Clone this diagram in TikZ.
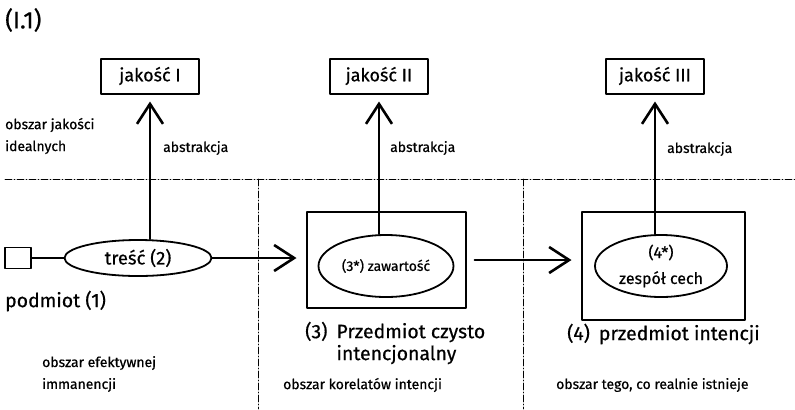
\documentclass[tikz,border=0pt]{standalone}
\usepackage{fontspec}
\setmainfont{Fira Sans}[FakeBold=0.6]
\usetikzlibrary{arrows.meta,shapes.geometric}

\begin{document}
\begin{tikzpicture}[line cap=round,line join=round,x=1bp,y=-1bp,
		>={Straight Barb[length=20bp,width=26bp,line width=2.6bp]},
		jakosc/.style={draw,line width=2bp,minimum width=98bp,minimum height=35bp,inner sep=0pt,font=\fontsize{18}{20}\selectfont},
		owal/.style={draw,ellipse,line width=1.8bp,inner sep=0pt,align=center,font=\fontsize{16}{26}\selectfont},
		ramka/.style={draw,line width=2bp,inner sep=0pt},
		strzalka/.style={->,line width=2bp},
		granica/.style={line width=0.7bp,dash pattern=on 7bp off 2bp on 1bp off 2bp},
		opis/.style={anchor=west,inner sep=0pt,align=left,font=\fontsize{14}{22}\selectfont},
		nazwa/.style={anchor=west,inner sep=0pt,align=left,font=\fontsize{19.5}{22}\selectfont}]
		\useasboundingbox (0,0) rectangle (795,409);
		\draw[granica] (5,179) -- (795,179);
		\draw[granica] (258,179) -- (258,409);
		\draw[granica] (523,179) -- (523,409);
		\node[nazwa,font=\fontsize{24}{25}\selectfont] (nr) at (5,20) {(I.1)};
		\node[jakosc] (j1) at (150,76) {jakość I};
		\node[jakosc] (j2) at (379,76) {jakość II};
		\node[jakosc] (j3) at (655,76) {jakość III};
		\node[draw,line width=1.8bp,minimum width=26bp,minimum height=21bp,inner sep=0pt] (pod) at (18,258) {};
		\node[owal,minimum width=147bp,minimum height=36bp,font=\fontsize{18.5}{22}\selectfont] (tr) at (138,258) {treść (2)};
		\node[ramka,minimum width=159bp,minimum height=96bp] (p3) at (386,260) {};
		\node[owal,minimum width=135bp,minimum height=62bp,font=\fontsize{14}{22}\selectfont] (zaw) at (386,266) {(3*) zawartość};
		\node[ramka,minimum width=163bp,minimum height=108bp] (p4) at (663,266) {};
		\node[owal,minimum width=132bp,minimum height=62bp] (zc) at (661,266) {(4*)\\zespół cech};
		\draw[line width=1.8bp] (pod) -- (tr);
		\draw[strzalka,shorten >=9bp] (tr) -- (tr -| p3.west);
		\draw[strzalka,shorten <=8bp,shorten >=9bp] (p3.east) -- (p3.east -| p4.west);
		\draw[strzalka,shorten >=7bp] (j1.south |- tr.north) -- (j1.south);
		\draw[strzalka,shorten >=7bp] (j2.south |- zaw.north) -- (j2.south);
		\draw[strzalka,shorten >=7bp] (j3.south |- zc.north) -- (j3.south);
		\node[opis] (ab1) at (163,148) {abstrakcja};
		\node[opis] (ab2) at (390,148) {abstrakcja};
		\node[opis] (ab3) at (667,149) {abstrakcja};
		\node[opis] (oji) at (5,136) {obszar jakości\\idealnych};
		\node[nazwa] (pd) at (5,301) {podmiot (1)};
		\node[nazwa] (pci) at (305,343) {(3)\hspace{9bp}Przedmiot czysto\\\phantom{(3)\hspace{9bp}}intencjonalny};
		\node[nazwa] (pi) at (567,334) {(4)\hspace{9bp}przedmiot intencji};
		\node[opis] (oei) at (42,374) {obszar efektywnej\\immanencji};
		\node[opis] (oki) at (283,385) {obszar korelatów intencji};
		\node[opis] (ot) at (556,385) {obszar tego, co realnie istnieje};
	\end{tikzpicture}
\end{document}
